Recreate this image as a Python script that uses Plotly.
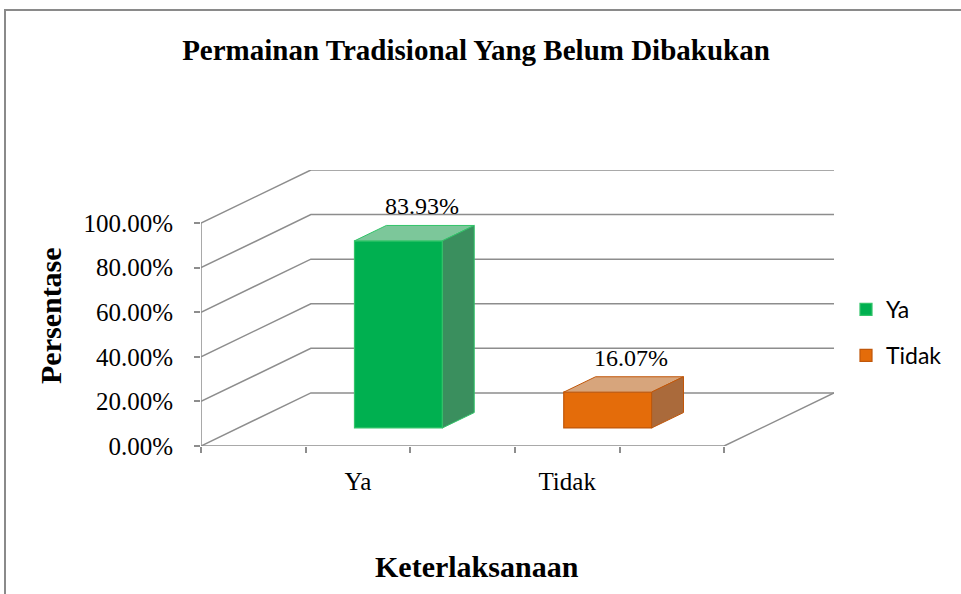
import plotly.graph_objects as go

# ---------------- data ----------------
categories = ["Ya", "Tidak"]
values = [83.93, 16.07]
y_ticks = [0, 20, 40, 60, 80, 100]
y_tick_labels = [f"{v:.2f}%" for v in y_ticks]
slot_ticks = [0, 1, 2, 3, 4, 5]
category_pos = [1.5, 3.5]

# ---------------- style ----------------
W, H = 961, 594
ML, MR, MT, MB = 201, 127, 170, 148
DX, DY = 1.05, 23.8          # depth vector of the pseudo-3D box (data units)
FLOOR_END = 5
X_MAX = FLOOR_END + DX
Y_MAX = 100 + DY
D0, D1 = 0.34, 0.63          # bar depth placement (fraction of box depth)
HALF_W = 0.42
SHIFT = 0.03
GRID = "#8d8d8d"
SERIF = "Liberation Serif, Times New Roman, serif"
SANS = "Lato"

front_col = ["#00B050", "#E46C0A"]
top_col = ["#7CC79A", "#D7A57C"]
side_col = ["#3A8F5E", "#AA6A3B"]
edge_col = ["#33C46A", "#C0570A"]

PW = W - ML - MR
PH = H - MT - MB


def px_x(p):
    return (p - ML) / PW


def px_y(p):
    return (H - MB - p) / PH


fig = go.Figure()

# front faces (bars)
for i, (cat, v) in enumerate(zip(categories, values)):
    c = category_pos[i] + SHIFT
    fig.add_trace(go.Bar(
        x=[c + D0 * DX], y=[v], base=[D0 * DY], width=[2 * HALF_W],
        name=cat, marker=dict(color=front_col[i], line=dict(color=edge_col[i], width=1.2)),
        hoverinfo="skip", showlegend=True,
        legendgroup=cat,
    ))

# top and side faces
for i, v in enumerate(values):
    c = category_pos[i] + SHIFT
    xl, xr = c - HALF_W, c + HALF_W
    top_x = [xl + D0 * DX, xr + D0 * DX, xr + D1 * DX, xl + D1 * DX, xl + D0 * DX]
    top_y = [v + D0 * DY, v + D0 * DY, v + D1 * DY, v + D1 * DY, v + D0 * DY]
    fig.add_trace(go.Scatter(x=top_x, y=top_y, fill="toself", fillcolor=top_col[i],
                             mode="lines", line=dict(color=edge_col[i], width=1),
                             hoverinfo="skip", showlegend=False))
    side_x = [xr + D0 * DX, xr + D1 * DX, xr + D1 * DX, xr + D0 * DX, xr + D0 * DX]
    side_y = [D0 * DY, D1 * DY, v + D1 * DY, v + D0 * DY, D0 * DY]
    fig.add_trace(go.Scatter(x=side_x, y=side_y, fill="toself", fillcolor=side_col[i],
                             mode="lines", line=dict(color=edge_col[i], width=1),
                             hoverinfo="skip", showlegend=False))

# category label axis carrier
fig.add_trace(go.Scatter(x=category_pos, y=[0, 0], xaxis="x2", mode="none",
                         hoverinfo="skip", showlegend=False))

shapes = []
# wall gridlines
for yv in y_ticks:
    shapes.append(dict(type="path", xref="x", yref="y", layer="below",
                       path=f"M 0,{yv} L {DX},{yv + DY} L {X_MAX},{yv + DY}",
                       line=dict(color=GRID, width=1.5)))
# floor front / right edge
shapes.append(dict(type="path", xref="x", yref="y", layer="below",
                   path=f"M 0,0 L {FLOOR_END},0 L {X_MAX},{DY}",
                   line=dict(color=GRID, width=1.5)))
# front vertical axis
shapes.append(dict(type="line", xref="x", yref="y", layer="below",
                   x0=0, y0=0, x1=0, y1=100, line=dict(color=GRID, width=1.5)))
# outer chart frame
shapes.append(dict(type="path", xref="paper", yref="paper", layer="below",
                   path=f"M {px_x(5)},{px_y(600)} L {px_x(5)},{px_y(10)} L {px_x(970)},{px_y(10)}",
                   line=dict(color="#8a8a8a", width=2)))

annotations = []
for i, v in enumerate(values):
    c = category_pos[i] + SHIFT
    annotations.append(dict(x=c + 0.55 * DX, y=v + D1 * DY, xref="x", yref="y",
                            text=f"{v:.2f}%", showarrow=False,
                            xanchor="center", yanchor="bottom", yshift=4,
                            font=dict(family=SERIF, size=24, color="#000")))
annotations.append(dict(x=px_x(50), y=px_y(316), xref="paper", yref="paper",
                        text="<b>Persentase</b>", textangle=-90, showarrow=False,
                        xanchor="center", yanchor="middle",
                        font=dict(family=SERIF, size=30, color="#000")))
annotations.append(dict(x=px_x(477), y=px_y(566), xref="paper", yref="paper",
                        text="<b>Keterlaksanaan</b>", showarrow=False,
                        xanchor="center", yanchor="middle",
                        font=dict(family=SERIF, size=30, color="#000")))

fig.update_layout(
    width=W, height=H,
    margin=dict(l=ML, r=MR, t=MT, b=MB, autoexpand=False),
    paper_bgcolor="white", plot_bgcolor="white",
    barmode="overlay",
    title=dict(text="<b>Permainan Tradisional Yang Belum Dibakukan</b>",
               x=476 / W, y=1 - 50 / H, xref="container", yref="container",
               xanchor="center", yanchor="middle",
               font=dict(family=SERIF, size=29, color="#000")),
    xaxis=dict(range=[0, X_MAX], tickvals=slot_ticks, ticks="outside", ticklen=6,
               tickcolor=GRID, tickwidth=1.5, showticklabels=False,
               showgrid=False, zeroline=False, showline=False, fixedrange=True),
    xaxis2=dict(range=[0, X_MAX], overlaying="x", anchor="y", side="bottom",
                tickvals=category_pos, ticktext=categories, ticks="",
                ticklabelstandoff=18,
                tickfont=dict(family=SERIF, size=25, color="#000"),
                showgrid=False, zeroline=False, showline=False, fixedrange=True),
    yaxis=dict(range=[0, Y_MAX], tickvals=y_ticks, ticktext=y_tick_labels,
               ticks="outside", ticklen=6, tickcolor=GRID, tickwidth=1.5,
               ticklabelstandoff=16,
               tickfont=dict(family=SERIF, size=25, color="#000"),
               showgrid=False, zeroline=False, showline=False, fixedrange=True),
    legend=dict(x=px_x(846), y=px_y(288), xanchor="left", yanchor="top",
                font=dict(family=SANS, size=23, color="#000"),
                traceorder="grouped", tracegroupgap=13,
                bgcolor="rgba(0,0,0,0)"),
    shapes=shapes,
    annotations=annotations,
)

fig.write_html("out.html")
